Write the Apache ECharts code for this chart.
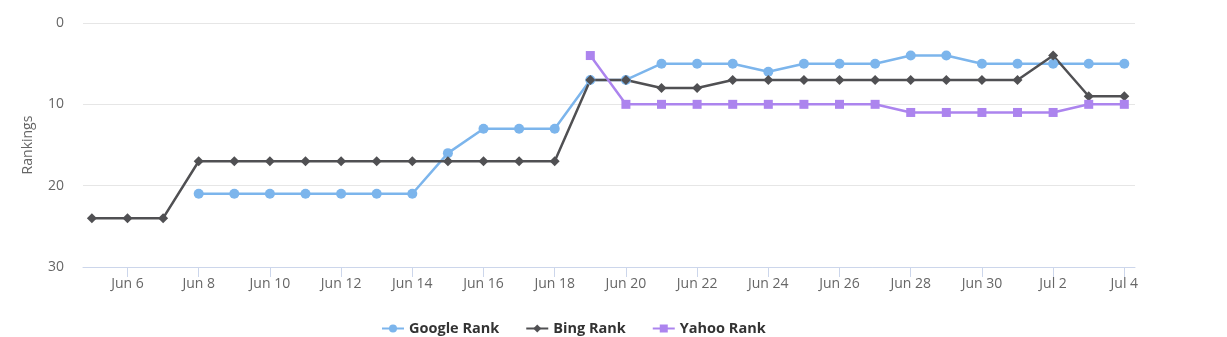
<!DOCTYPE html>
<html>
<head>
<meta charset="utf-8">
<script src="https://cdn.jsdelivr.net/npm/echarts@6/dist/echarts.min.js"></script>
<style>
  html, body { margin: 0; padding: 0; background: #fff; }
  #chart { width: 1227px; height: 337px; }
</style>
</head>
<body>
<div id="chart"></div>
<script>
// Daily search-engine rankings, Jun 5 – Jul 4
const days = [
  'Jun 5', 'Jun 6', 'Jun 7', 'Jun 8', 'Jun 9', 'Jun 10', 'Jun 11', 'Jun 12', 'Jun 13', 'Jun 14',
  'Jun 15', 'Jun 16', 'Jun 17', 'Jun 18', 'Jun 19', 'Jun 20', 'Jun 21', 'Jun 22', 'Jun 23', 'Jun 24',
  'Jun 25', 'Jun 26', 'Jun 27', 'Jun 28', 'Jun 29', 'Jun 30', 'Jul 1', 'Jul 2', 'Jul 3', 'Jul 4'
];
const googleRank = [null, null, null, 21, 21, 21, 21, 21, 21, 21,
  16, 13, 13, 13, 7, 7, 5, 5, 5, 6,
  5, 5, 5, 4, 4, 5, 5, 5, 5, 5];
const bingRank = [24, 24, 24, 17, 17, 17, 17, 17, 17, 17,
  17, 17, 17, 17, 7, 7, 8, 8, 7, 7,
  7, 7, 7, 7, 7, 7, 7, 4, 9, 9];
const yahooRank = [null, null, null, null, null, null, null, null, null, null,
  null, null, null, null, 4, 10, 10, 10, 10, 10,
  10, 10, 10, 11, 11, 11, 11, 11, 10, 10];
const rankTicks = [0, 10, 20, 30];
// x positions that carry a date label (every other day from Jun 6)
const labelDays = days.map((d, i) => i).filter(i => i % 2 === 1);

const FONT = '"Open Sans", "DejaVu Sans", sans-serif';

function pairs(values) {
  return values.map((v, i) => [i, v]);
}

const chart = echarts.init(document.getElementById('chart'), null, { renderer: 'canvas' });

function lineSeries(name, values, color, symbol, size) {
  return {
    name: name,
    type: 'line',
    data: pairs(values),
    connectNulls: false,
    symbol: symbol,
    symbolSize: size,
    showAllSymbol: true,
    lineStyle: { width: 2.5, color: color },
    itemStyle: { color: color },
    emphasis: { disabled: true },
    animation: false
  };
}

chart.setOption({
  animation: false,
  grid: { left: 83, right: 92, top: 23, bottom: 70 },
  legend: {
    top: 316,
    left: 376,
    itemWidth: 22,
    itemHeight: 10,
    itemGap: 26,
    textStyle: { fontFamily: FONT, fontSize: 14.5, fontWeight: 'bold', color: '#333333' },
    data: ['Google Rank', 'Bing Rank', 'Yahoo Rank']
  },
  xAxis: {
    type: 'value',
    min: -0.25,
    max: 29.3,
    axisLine: { show: true, onZero: false, lineStyle: { color: '#ccd6eb', width: 1 } },
    axisTick: {
      show: true,
      length: 10,
      lineStyle: { color: '#ccd6eb' },
      customValues: labelDays
    },
    axisLabel: {
      customValues: labelDays,
      margin: 10,
      color: '#666666',
      fontFamily: FONT,
      fontSize: 14,
      formatter: v => days[Math.round(v)]
    },
    splitLine: { show: false }
  },
  yAxis: {
    type: 'value',
    inverse: true,
    min: rankTicks[0],
    max: rankTicks[rankTicks.length - 1],
    interval: 10,
    name: 'Rankings',
    nameLocation: 'middle',
    nameGap: 48,
    nameRotate: 90,
    nameTextStyle: { color: '#666666', fontFamily: FONT, fontSize: 14 },
    axisLine: { show: false },
    axisTick: { show: false },
    axisLabel: { color: '#666666', fontFamily: FONT, fontSize: 14, margin: 19 },
    splitLine: { show: true, lineStyle: { color: '#e6e6e6', width: 1 } }
  },
  series: [
    lineSeries('Google Rank', googleRank, '#7cb5ec', 'circle', 10),
    lineSeries('Bing Rank', bingRank, '#505053', 'diamond', 10),
    lineSeries('Yahoo Rank', yahooRank, '#ac84ee', 'rect', 9)
  ]
});
</script>
</body>
</html>
